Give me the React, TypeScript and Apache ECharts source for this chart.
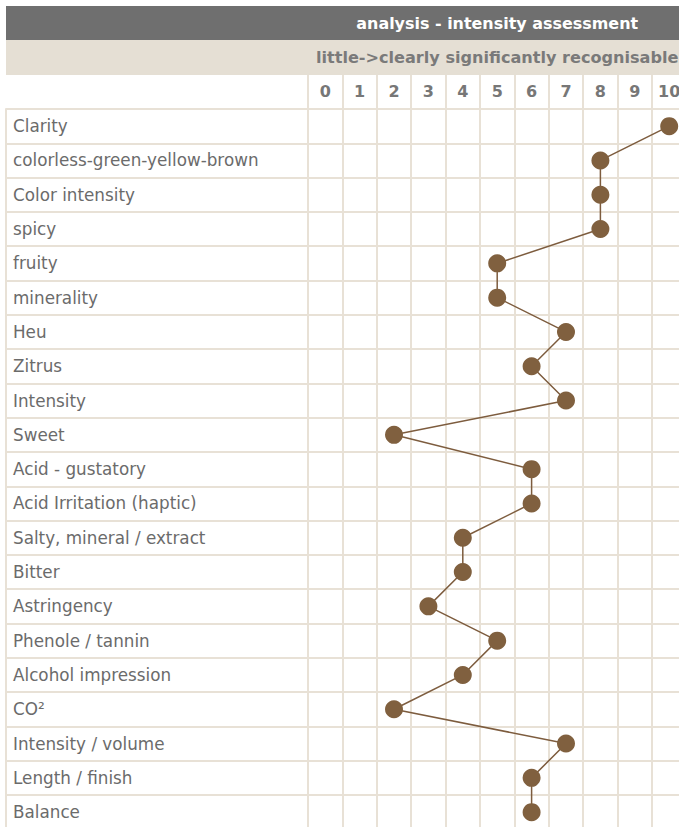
import React, { useEffect, useRef } from "react";
import * as echarts from "echarts";

const title = "analysis - intensity assessment";
const subtitle = "little->clearly significantly recognisable";
const scaleLabels = ["0", "1", "2", "3", "4", "5", "6", "7", "8", "9", "10"];
const attributes = [
  "Clarity",
  "colorless-green-yellow-brown",
  "Color intensity",
  "spicy",
  "fruity",
  "minerality",
  "Heu",
  "Zitrus",
  "Intensity",
  "Sweet",
  "Acid - gustatory",
  "Acid Irritation (haptic)",
  "Salty, mineral / extract",
  "Bitter",
  "Astringency",
  "Phenole / tannin",
  "Alcohol impression",
  "CO²",
  "Intensity / volume",
  "Length / finish",
  "Balance",
];
const scores = [10, 8, 8, 8, 5, 5, 7, 6, 7, 2, 6, 6, 4, 4, 3, 5, 4, 2, 7, 6, 6];

const GRID = "#e8e1d6";
const FONT = "DejaVu Sans";

export default function App() {
  const ref = useRef<HTMLDivElement>(null);
  useEffect(() => {
    if (!ref.current) return;
    const chart = echarts.init(ref.current, undefined, { renderer: "svg" });
    const colW = 34.4;
    const rowH = 34.3;
    const left = 308;
    const top = 109;
    chart.setOption({
      animation: false,
      graphic: [
        { type: "rect", shape: { x: 6, y: 6, width: 700, height: 34 }, style: { fill: "#6f6f6f" }, silent: true },
        { type: "rect", shape: { x: 6, y: 40, width: 700, height: 35 }, style: { fill: "#e5dfd4" }, silent: true },
        {
          type: "text",
          x: left + (colW * 11) / 2,
          y: 23,
          style: { text: title, fill: "#ffffff", font: `bold 15.95px "${FONT}"`, align: "center", verticalAlign: "middle" },
          silent: true,
        },
        {
          type: "text",
          x: left + (colW * 11) / 2,
          y: 57.5,
          style: { text: subtitle, fill: "#7a7a7a", font: `bold 16.1px "${FONT}"`, align: "center", verticalAlign: "middle" },
          silent: true,
        },
      ],
      grid: { left, top, width: colW * 11, height: rowH * 21, outerBoundsMode: "none", containLabel: false },
      xAxis: {
        type: "category",
        position: "top",
        data: scaleLabels,
        boundaryGap: true,
        axisLine: { show: true, lineStyle: { color: GRID, width: 2 } },
        axisTick: { show: true, length: 34, lineStyle: { color: GRID, width: 2 } },
        axisLabel: { color: "#777777", fontFamily: FONT, fontWeight: "bold", fontSize: 16, margin: 10 },
        splitLine: { show: true, lineStyle: { color: GRID, width: 2 } },
      },
      yAxis: [
        {
          type: "category",
          data: attributes,
          inverse: true,
          boundaryGap: true,
          axisLine: { show: true, lineStyle: { color: GRID, width: 2 } },
          axisTick: { show: true, length: 302, lineStyle: { color: GRID, width: 2 } },
          axisLabel: { color: "#6b6b6b", fontFamily: FONT, fontSize: 16.8, align: "left", margin: 295 },
          splitLine: { show: true, lineStyle: { color: GRID, width: 2 } },
        },
        {
          type: "category",
          data: attributes,
          inverse: true,
          position: "left",
          offset: 302,
          axisLine: { show: true, lineStyle: { color: GRID, width: 2 } },
          axisTick: { show: false },
          axisLabel: { show: false },
          splitLine: { show: false },
        },
      ],
      series: [
        {
          type: "line",
          yAxisIndex: 0,
          data: scores.map((s, i) => [String(s), attributes[i]]),
          symbol: "circle",
          symbolSize: 18,
          lineStyle: { color: "#7d5c3e", width: 1.5 },
          itemStyle: { color: "#80603f" },
          clip: false,
        },
      ],
    });
    return () => chart.dispose();
  }, []);
  return <div ref={ref} style={{ position: "absolute", left: 0, top: 0, width: 679, height: 827 }} />;
}
